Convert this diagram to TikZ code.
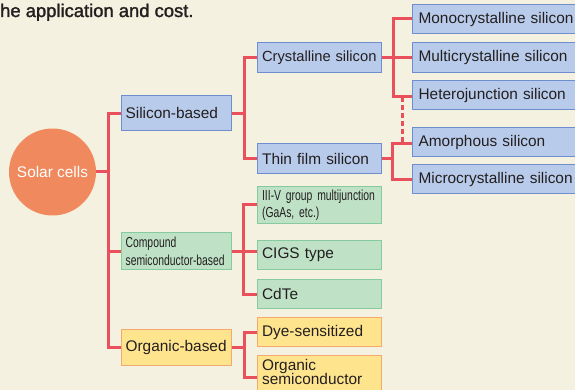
\documentclass[tikz,border=0pt]{standalone}
\usepackage{fontspec}
\setmainfont{Liberation Sans}
\newfontfamily\narrowfont[FakeStretch=0.715]{Liberation Sans}
\newfontfamily\titlefont[FakeBold=1.5]{Liberation Sans}
\definecolor{bgc}{HTML}{F5F1E0}
\definecolor{bluefill}{HTML}{B9CBEA}
\definecolor{bluedraw}{HTML}{6E8ED0}
\definecolor{greenfill}{HTML}{BFE2C6}
\definecolor{greendraw}{HTML}{86CBA0}
\definecolor{yellowfill}{HTML}{FFE48E}
\definecolor{yellowdraw}{HTML}{F5A96E}
\definecolor{circc}{HTML}{F08A5E}
\definecolor{redc}{HTML}{E9505C}
\definecolor{txtc}{HTML}{231F20}
\begin{document}
\begin{tikzpicture}[x=1pt,y=-1pt,
  box/.style={draw, line width=1.2pt, rectangle, anchor=north west, inner xsep=4.5pt, inner ysep=3pt,
    align=left, text=txtc, font=\fontsize{15.4}{14.5}\selectfont},
  bluebox/.style={box, fill=bluefill, draw=bluedraw},
  greenbox/.style={box, fill=greenfill, draw=greendraw},
  yellowbox/.style={box, fill=yellowfill, draw=yellowdraw},
  colA/.style={text width=101pt},
  colB/.style={text width=115pt},
  colC/.style={text width=166pt, inner xsep=6pt},
  narrow/.style={font=\narrowfont\fontsize{14.5}{17.5}\selectfont},
  link/.style={draw=redc, line width=3pt}]
\fill[bgc] (0,0) rectangle (575,390);
\useasboundingbox (0,0) rectangle (575,390);
\clip (0,0) rectangle (575,390);

\node[anchor=base west, inner sep=0pt, text=txtc, font=\titlefont\fontsize{18.4}{20}\selectfont] (title) at (0,17) {he application and cost.};

\node[circle, fill=circc, minimum size=87pt, inner sep=0pt, text=white, font=\fontsize{15.4}{17}\selectfont] (sc) at (52.5,172) {Solar cells};

% first level
\node[bluebox, colA, minimum height=35pt] (sil) at (120.5,95) {\mbox{Silicon-based}};
\node[greenbox, colA, minimum height=37pt, narrow] (comp) at (120.5,232) {\mbox{Compound}\\\mbox{semiconductor-based}};
\node[yellowbox, colA, minimum height=36pt] (org) at (120.5,329) {\mbox{Organic-based}};

% second level
\node[bluebox, colB, minimum height=30pt, font=\fontsize{14.7}{14.5}\selectfont] (cry) at (257,42) {\mbox{Crystalline silicon}};
\node[bluebox, colB, minimum height=30pt] (thin) at (257,143) {\mbox{Thin film silicon}};
\node[greenbox, colB, minimum height=36pt, font=\narrowfont\fontsize{14.5}{17}\selectfont] (iii) at (257,186) {\mbox{III-V group multijunction}\\\mbox{(GaAs, etc.)}};
\node[greenbox, colB, minimum height=29pt] (cigs) at (257,240) {\mbox{CIGS type}};
\node[greenbox, colB, minimum height=29pt] (cdte) at (257,279) {CdTe};
\node[yellowbox, colB, minimum height=29pt] (dye) at (257,317) {\mbox{Dye-sensitized}};
\node[yellowbox, colB, text height=11.5pt, text depth=22pt] (osemi) at (257,355) {Organic\\semiconductor};

% third level
\node[bluebox, colC, minimum height=29pt] (mono) at (412,4) {\mbox{Monocrystalline silicon}};
\node[bluebox, colC, minimum height=30pt] (multi) at (412,42) {\mbox{Multicrystalline silicon}};
\node[bluebox, colC, minimum height=29pt] (hetero) at (412,80) {\mbox{Heterojunction silicon}};
\node[bluebox, colC, minimum height=29pt] (amor) at (412,127) {\mbox{Amorphous silicon}};
\node[bluebox, colC, minimum height=29pt] (micro) at (412,164) {\mbox{Microcrystalline silicon}};

% connectors: main
\draw[link] (sc.east) -- ++(12,0) coordinate (mb);
\draw[link] (sil.west) -- (sil.west -| mb) |- (org.west);
\draw[link] (comp.west) -- (comp.west -| mb);

% silicon branch
\draw[link] (sil.east) -- ++(13,0) coordinate (sb);
\draw[link] (cry.west) -- (cry.west -| sb) |- (thin.west);

% compound branch
\draw[link] (comp.east) -- (comp.east -| cigs.west);
\coordinate (cb) at ([xshift=-14pt]iii.west);
\draw[link] (iii.west) -- (cb) |- (cdte.west);

% organic branch
\draw[link] (org.east) -- ++(13,0) coordinate (ob);
\draw[link] (dye.west) -- (dye.west -| ob) |- ([yshift=-2pt]osemi.west);

% crystalline branch
\draw[link] (cry.east) -- ++(11,0) coordinate (crb);
\draw[link] ([yshift=0.5pt]mono.west) -- ([yshift=0.5pt]mono.west -| crb) |- ([yshift=-1.5pt]hetero.west);
\draw[link] (multi.west) -- (multi.west -| crb);

% thin film branch
\draw[link] (thin.east) -- ++(10,0) coordinate (tb);
\draw[link] ([yshift=-1.5pt]amor.west) -- ([yshift=-1.5pt]amor.west -| tb) |- (micro.west);

% dashed link
\draw[link, dash pattern=on 5pt off 3pt] ([xshift=-10pt,yshift=-1.5pt]hetero.west) -- ([xshift=-10pt,yshift=-1.5pt]amor.west);
\end{tikzpicture}
\end{document}
